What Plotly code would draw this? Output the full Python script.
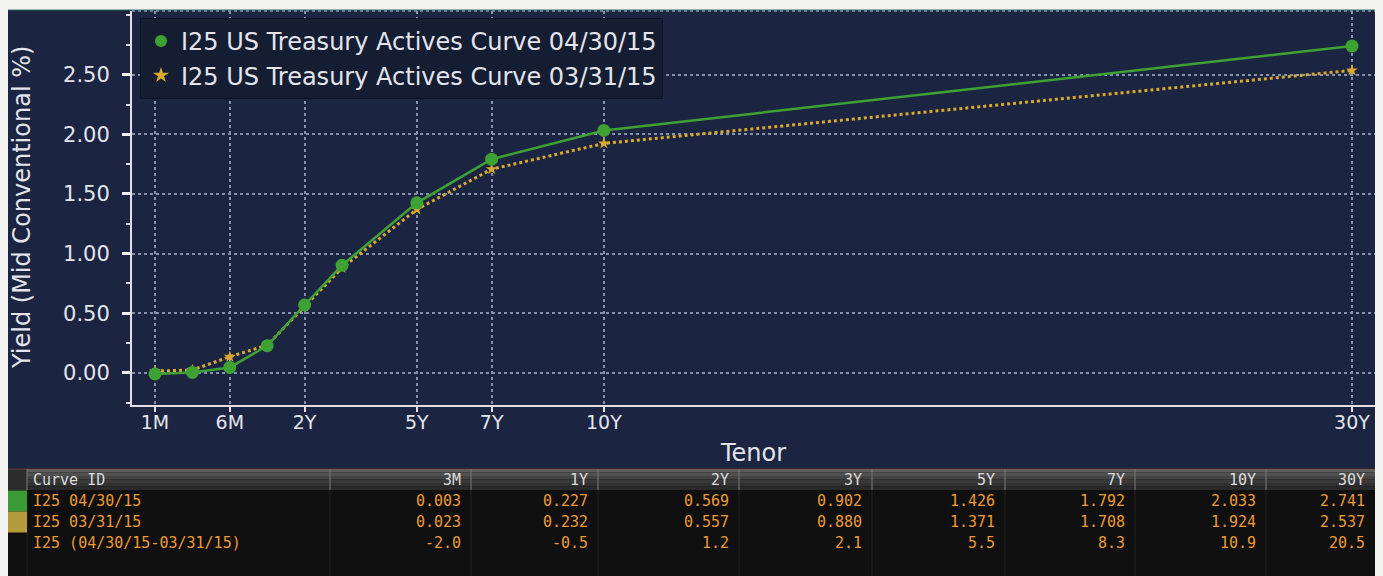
import plotly.graph_objects as go

# ---------------- data ----------------
tenors = ["1M", "3M", "6M", "1Y", "2Y", "3Y", "5Y", "7Y", "10Y", "30Y"]
tenor_axis_pos = [-2, -1, 0, 1, 2, 3, 5, 7, 10, 30]   # Bloomberg tenor axis scale
curve_0430 = [-0.010, 0.003, 0.045, 0.227, 0.569, 0.902, 1.426, 1.792, 2.033, 2.741]
curve_0331 = [0.015, 0.023, 0.135, 0.232, 0.557, 0.880, 1.371, 1.708, 1.924, 2.537]
axis_tick_labels = ["1M", "6M", "2Y", "5Y", "7Y", "10Y", "30Y"]
y_tick_vals = [0.0, 0.5, 1.0, 1.5, 2.0, 2.5]

series_names = ["I25 US Treasury Actives Curve 04/30/15",
                "I25 US Treasury Actives Curve 03/31/15"]

table_cols = ["3M", "1Y", "2Y", "3Y", "5Y", "7Y", "10Y", "30Y"]
table_row_ids = ["I25 04/30/15", "I25 03/31/15", "I25 (04/30/15-03/31/15)"]
table_0430 = [0.003, 0.227, 0.569, 0.902, 1.426, 1.792, 2.033, 2.741]
table_0331 = [0.023, 0.232, 0.557, 0.880, 1.371, 1.708, 1.924, 2.537]
table_diff = [-2.0, -0.5, 1.2, 2.1, 5.5, 8.3, 10.9, 20.5]

# ---------------- styling ----------------
W, H = 1383, 576
L, R, T, B = 132, 1375, 11, 405          # plot area in pixels
NAVY = "#1b2541"
GREEN = "#3da133"
GOLD = "#d9a82c"
TXT = "#e4e4ec"
GRID = "#8593ad"
FONT = "DejaVu Sans"
MONO = "DejaVu Sans Mono"


def X(p):
    return (p - L) / (R - L)


def Y(p):
    return (B - p) / (B - T)


fig = go.Figure()

fig.add_trace(go.Scatter(
    x=tenor_axis_pos, y=curve_0331, mode="lines+markers", showlegend=False,
    line=dict(color=GOLD, width=3, dash="dot"),
    marker=dict(symbol="star", size=9, color=GOLD)))
fig.add_trace(go.Scatter(
    x=tenor_axis_pos, y=curve_0430, mode="lines+markers", showlegend=False,
    line=dict(color=GREEN, width=2.5),
    marker=dict(symbol="circle", size=13, color=GREEN)))
# legend-only entries (marker glyph only)
fig.add_trace(go.Scatter(x=[None], y=[None], mode="markers", name=series_names[0],
                         marker=dict(symbol="circle", size=13, color=GREEN)))
fig.add_trace(go.Scatter(x=[None], y=[None], mode="markers", name=series_names[1],
                         marker=dict(symbol="star", size=10, color=GOLD)))

shapes = []
# chart panel and table backgrounds
shapes.append(dict(type="rect", xref="paper", yref="paper", layer="below",
                   x0=X(8), x1=X(1375), y0=Y(468), y1=Y(10),
                   fillcolor=NAVY, line=dict(width=0)))
shapes.append(dict(type="line", xref="paper", yref="paper", layer="below",
                   x0=X(8), x1=X(1375), y0=Y(10), y1=Y(10),
                   line=dict(color="#2f6b5e", width=1)))
shapes.append(dict(type="rect", xref="paper", yref="paper", layer="below",
                   x0=X(8), x1=X(1375), y0=Y(576), y1=Y(468),
                   fillcolor="#0f0f0f", line=dict(width=0)))
# header gradient
hdr_top, hdr_bot = 469, 490
grad = ["#5e5e5e", "#505050", "#444444", "#393939", "#303030", "#2a2a2a"]
step = (hdr_bot - hdr_top) / len(grad)
for i, c in enumerate(grad):
    shapes.append(dict(type="rect", xref="paper", yref="paper", layer="below",
                       x0=X(8), x1=X(1375),
                       y0=Y(hdr_top + (i + 1) * step), y1=Y(hdr_top + i * step),
                       fillcolor=c, line=dict(width=0)))
shapes.append(dict(type="rect", xref="paper", yref="paper", layer="below",
                   x0=X(8), x1=X(27), y0=Y(hdr_bot), y1=Y(hdr_top),
                   fillcolor="#2c2c2c", line=dict(width=0)))
shapes.append(dict(type="line", xref="paper", yref="paper", layer="below",
                   x0=X(8), x1=X(1375), y0=Y(hdr_top), y1=Y(hdr_top),
                   line=dict(color="#6a4a52", width=1)))
col_edges = [27, 330, 471, 598, 739, 872, 1005, 1135, 1266, 1375]
for e in col_edges[:-1]:
    shapes.append(dict(type="line", xref="paper", yref="paper", layer="below",
                       x0=X(e), x1=X(e), y0=Y(576), y1=Y(hdr_bot),
                       line=dict(color="#242424", width=1)))
    shapes.append(dict(type="line", xref="paper", yref="paper", layer="below",
                       x0=X(e), x1=X(e), y0=Y(hdr_bot), y1=Y(hdr_top),
                       line=dict(color="#7a7a7a", width=1)))
# row swatches
row_y = [501, 522, 543]
row_h = 21
for yc, col in zip(row_y[:2], ["#3a9a36", "#b59a3c"]):
    shapes.append(dict(type="rect", xref="paper", yref="paper", layer="below",
                       x0=X(8), x1=X(27), y0=Y(yc + row_h / 2), y1=Y(yc - row_h / 2),
                       fillcolor=col, line=dict(width=0)))
# dotted top frame of the plot area
shapes.append(dict(type="line", xref="paper", yref="paper",
                   x0=0, x1=1, y0=1, y1=1, line=dict(color=GRID, width=1.5, dash="dot")))


def note(x, y, text, font, xanchor="center", angle=0):
    return dict(xref="paper", yref="paper", x=X(x), y=Y(y), xanchor=xanchor,
                yanchor="middle", text=text, textangle=angle, showarrow=False, font=font)


annotations = []
annotations.append(note(22, 208, "Yield (Mid Conventional %)",
                        dict(family=FONT, size=24, color=TXT), angle=-90))
annotations.append(note(753, 453, "Tenor", dict(family=FONT, size=24, color=TXT)))
# table header
HDR_FONT = dict(family=MONO, size=15, color="#dcdcdc")
annotations.append(note(31, 480, "Curve ID", HDR_FONT, xanchor="left"))
for j, c in enumerate(table_cols):
    annotations.append(note(col_edges[j + 2] - 8, 480, c, HDR_FONT, xanchor="right"))
rows = [[f"{v:.3f}" for v in table_0430],
        [f"{v:.3f}" for v in table_0331],
        [f"{v:.1f}" for v in table_diff]]
ROW_FONT = dict(family=MONO, size=15, color="#ec9a34")
for i, (rid, vals) in enumerate(zip(table_row_ids, rows)):
    annotations.append(note(31, row_y[i], rid, ROW_FONT, xanchor="left"))
    for j, v in enumerate(vals):
        annotations.append(note(col_edges[j + 2] - 8, row_y[i], v, ROW_FONT, xanchor="right"))

fig.update_layout(
    width=W, height=H,
    margin=dict(l=L, r=W - R, t=T, b=H - B, pad=0),
    paper_bgcolor="#f4f4f2",
    plot_bgcolor=NAVY,
    font=dict(family=FONT, color=TXT),
    shapes=shapes,
    annotations=annotations,
    legend=dict(x=X(140), y=Y(18), xanchor="left", yanchor="top",
                bgcolor="#151d33", bordercolor="#0e1424", borderwidth=1,
                font=dict(family=FONT, size=24, color=TXT),
                itemsizing="constant", tracegroupgap=0),
    xaxis=dict(range=[-2.615, 30.615], tickmode="array",
               tickvals=[tenor_axis_pos[tenors.index(t)] for t in axis_tick_labels],
               ticktext=axis_tick_labels,
               showgrid=True, gridcolor=GRID, gridwidth=1.5, griddash="dot",
               zeroline=False, showline=True, linecolor="#e6dde6", linewidth=2,
               ticks="outside", ticklen=5, tickwidth=2, tickcolor="#e6dde6",
               ticklabelstandoff=-6,
               tickfont=dict(family=FONT, size=19, color=TXT)),
    yaxis=dict(range=[-0.27, 3.035], tickmode="array", tickvals=y_tick_vals,
               ticktext=[f"{v:.2f}" for v in y_tick_vals],
               showgrid=True, gridcolor=GRID, gridwidth=1.5, griddash="dot",
               zeroline=False, showline=True, linecolor="#e6dde6", linewidth=2,
               ticks="outside", ticklen=8, tickwidth=3, tickcolor="#f0f0f0",
               ticklabelstandoff=8,
               minor=dict(dtick=0.25, tick0=0, ticks="outside", ticklen=4,
                          tickwidth=1.5, tickcolor="#e6dde6", showgrid=False),
               tickfont=dict(family=FONT, size=21, color=TXT)),
)

fig.write_html("out.html", config={"displayModeBar": False},
               post_script="document.body.style.margin='0';document.body.style.overflow='hidden';")
